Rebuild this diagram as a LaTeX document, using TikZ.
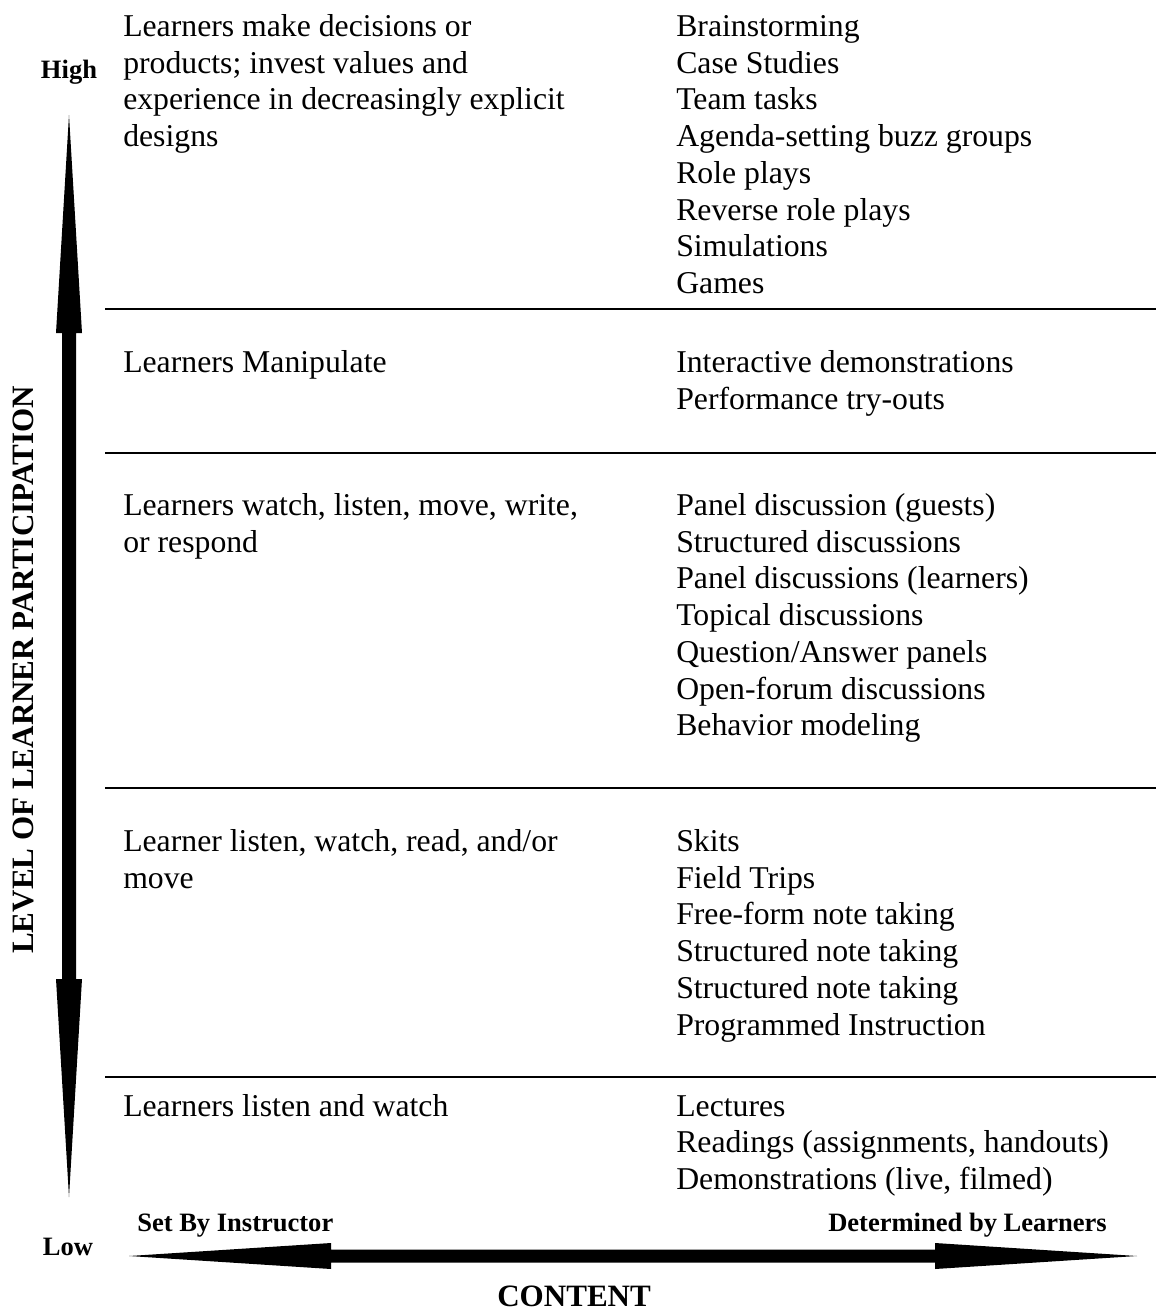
\documentclass[tikz,border=0pt]{standalone}
\usepackage{fontspec}
\setmainfont{Liberation Serif}
\begin{document}
\begin{tikzpicture}[x=0.75pt,y=-0.75pt,
  body/.style={anchor=base west,inner sep=0pt,font=\fontsize{23.8}{27.5}\selectfont},
  lab/.style={inner sep=0pt,font=\fontsize{19.9}{24}\selectfont\bfseries},
  biglab/.style={inner sep=0pt,font=\fontsize{23.3}{28}\selectfont\bfseries},
  sep/.style={line width=1.5pt},
  bigarrow/.style={fill=black,draw=none}]
\useasboundingbox (0,0) rectangle (1156,1311);
% separators
\coordinate (s1a) at (105,309); \coordinate (s1b) at (1156,309);
\coordinate (s2a) at (105,453); \coordinate (s2b) at (1156,453);
\coordinate (s3a) at (105,788); \coordinate (s3b) at (1156,788);
\coordinate (s4a) at (105,1077); \coordinate (s4b) at (1156,1077);
\draw[sep] (s1a) -- (s1b);
\draw[sep] (s2a) -- (s2b);
\draw[sep] (s3a) -- (s3b);
\draw[sep] (s4a) -- (s4b);
% vertical double arrow
\fill[bigarrow] (69,115) -- (82,333) -- (76,333) -- (76,979) -- (82,979) -- (69,1197)
  -- (56,979) -- (62,979) -- (62,333) -- (56,333) -- cycle;
% horizontal double arrow
\fill[bigarrow] (129,1256) -- (331,1243) -- (331,1249.5) -- (935,1249.5) -- (935,1243) -- (1137,1256)
  -- (935,1269) -- (935,1262.5) -- (331,1262.5) -- (331,1269) -- cycle;
% axis labels
\node[lab,anchor=base] (high) at (69,78) {High};
\node[lab,anchor=base] (low) at (68,1255) {Low};
\node[lab,anchor=base west] (setby) at (137,1231) {Set By Instructor};
\node[lab,anchor=base west] (detby) at (828,1231) {Determined by Learners};
\node[biglab,anchor=base west] (content) at (497,1306) {CONTENT};
\node[biglab,rotate=90,anchor=center] (level) at (23,670) {LEVEL OF LEARNER PARTICIPATION};
% row 1
\node[body] (l1a) at (123,36.5) {Learners make decisions or};
\node[body] (l1b) at (123,73.2) {products; invest values and};
\node[body] (l1c) at (123,109.9) {experience in decreasingly explicit};
\node[body] (l1d) at (123,146.6) {designs};
\node[body] (r1a) at (676,36.5) {Brainstorming};
\node[body] (r1b) at (676,73.2) {Case Studies};
\node[body] (r1c) at (676,109.9) {Team tasks};
\node[body] (r1d) at (676,146.6) {Agenda-setting buzz groups};
\node[body] (r1e) at (676,183.3) {Role plays};
\node[body] (r1f) at (676,220) {Reverse role plays};
\node[body] (r1g) at (676,256.7) {Simulations};
\node[body] (r1h) at (676,293.4) {Games};
% row 2
\node[body] (l2a) at (123,372.5) {Learners Manipulate};
\node[body] (r2a) at (676,372.5) {Interactive demonstrations};
\node[body] (r2b) at (676,409.2) {Performance try-outs};
% row 3
\node[body] (l3a) at (123,515.5) {Learners watch, listen, move, write,};
\node[body] (l3b) at (123,552.2) {or respond};
\node[body] (r3a) at (676,515.5) {Panel discussion (guests)};
\node[body] (r3b) at (676,552.2) {Structured discussions};
\node[body] (r3c) at (676,588.9) {Panel discussions (learners)};
\node[body] (r3d) at (676,625.6) {Topical discussions};
\node[body] (r3e) at (676,662.3) {Question/Answer panels};
\node[body] (r3f) at (676,699) {Open-forum discussions};
\node[body] (r3g) at (676,735.7) {Behavior modeling};
% row 4
\node[body] (l4a) at (123,851.5) {Learner listen, watch, read, and/or};
\node[body] (l4b) at (123,888.2) {move};
\node[body] (r4a) at (676,851.5) {Skits};
\node[body] (r4b) at (676,888.2) {Field Trips};
\node[body] (r4c) at (676,924.9) {Free-form note taking};
\node[body] (r4d) at (676,961.6) {Structured note taking};
\node[body] (r4e) at (676,998.3) {Structured note taking};
\node[body] (r4f) at (676,1035) {Programmed Instruction};
% row 5
\node[body] (l5a) at (123,1116) {Learners listen and watch};
\node[body] (r5a) at (676,1116) {Lectures};
\node[body] (r5b) at (676,1152.7) {Readings (assignments, handouts)};
\node[body] (r5c) at (676,1189.4) {Demonstrations (live, filmed)};
\end{tikzpicture}
\end{document}
